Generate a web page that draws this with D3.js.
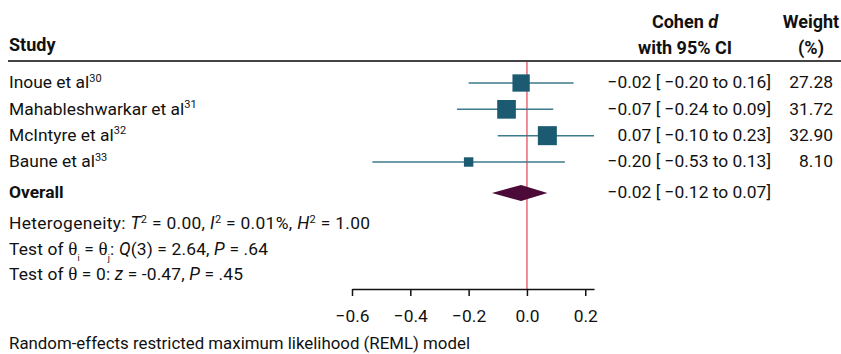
<!DOCTYPE html>
<html>
<head>
<meta charset="utf-8">
<script src="https://cdn.jsdelivr.net/npm/d3@7"></script>
<style>
  html, body { margin: 0; padding: 0; background: #fff; }
  svg { display: block; font-family: Roboto, "Open Sans", sans-serif; }
</style>
</head>
<body>
<div id="chart"></div>
<script>
/* Forest plot: Cohen d with 95% CI per study, REML random-effects pooled estimate. */

var studies = ["Inoue et al", "Mahableshwarkar et al", "McIntyre et al", "Baune et al"];
var refs = ["30", "31", "32", "33"];
var effect = [-0.02, -0.07, 0.07, -0.20];
var lower = [-0.20, -0.24, -0.10, -0.53];
var upper = [0.16, 0.09, 0.23, 0.13];
var weight = [27.28, 31.72, 32.90, 8.10];
var overall = [-0.02, -0.12, 0.07]; // estimate, lower, upper
var tickValues = [-0.6, -0.4, -0.2, 0, 0.2];

var W = 841, H = 354;
var FS = 17.4, HFS = 18;
var ink = "#111";
var fmt = function (v) { return d3.format(".2f")(v).replace("-", "\u2212"); };

var svg = d3.select("#chart").append("svg").attr("width", W).attr("height", H);

var x = d3.scaleLinear().domain([-0.6, 0.23]).range([352, 594]);
var y = d3.scalePoint().domain(studies).range([83, 162]);
var size = d3.scaleSqrt().domain([0, d3.max(weight)]).range([0, 19]);
var overallY = 193;
var axisY = 289;

// header
var head = svg.append("g").attr("font-weight", 700).attr("font-size", HFS).attr("fill", ink);
head.append("text").attr("x", 9).attr("y", 51).text("Study");
var ch = head.append("text").attr("x", 685).attr("y", 28).attr("text-anchor", "middle");
ch.append("tspan").text("Cohen ");
ch.append("tspan").attr("font-style", "italic").text("d");
head.append("text").attr("x", 685).attr("y", 54).attr("text-anchor", "middle").text("with 95% CI");
head.append("text").attr("x", 811).attr("y", 28).attr("text-anchor", "middle").text("Weight");
head.append("text").attr("x", 811).attr("y", 54).attr("text-anchor", "middle").text("(%)");

svg.append("line").attr("x1", 8).attr("x2", W).attr("y1", 61).attr("y2", 61)
  .attr("stroke", "#444").attr("stroke-width", 2);

// null line
svg.append("line").attr("x1", x(0)).attr("x2", x(0)).attr("y1", 62).attr("y2", axisY)
  .attr("stroke", "#e8727f").attr("stroke-width", 1.6);

// study rows
var rows = svg.append("g").selectAll("g").data(studies).join("g")
  .attr("transform", function (d) { return "translate(0," + y(d) + ")"; });

rows.append("line")
  .attr("x1", function (d, i) { return x(lower[i]); })
  .attr("x2", function (d, i) { return x(upper[i]); })
  .attr("stroke", "#3d7a8d").attr("stroke-width", 1.5);

rows.append("rect")
  .attr("x", function (d, i) { return x(effect[i]) - size(weight[i]) / 2; })
  .attr("y", function (d, i) { return -size(weight[i]) / 2; })
  .attr("width", function (d, i) { return size(weight[i]); })
  .attr("height", function (d, i) { return size(weight[i]); })
  .attr("fill", "#1b5a70");

var lab = rows.append("text").attr("x", 9).attr("dy", "0.3em")
  .attr("font-size", FS).attr("fill", ink);
lab.append("tspan").text(function (d) { return d; });
lab.append("tspan").attr("font-size", 11).attr("dy", "-0.6em")
  .text(function (d, i) { return refs[i]; });

rows.append("text").attr("x", 771).attr("dy", "0.3em").attr("text-anchor", "end")
  .attr("font-size", FS).attr("fill", ink)
  .text(function (d, i) { return fmt(effect[i]) + " [ " + fmt(lower[i]) + " to " + fmt(upper[i]) + "]"; });

rows.append("text").attr("x", 833).attr("dy", "0.3em").attr("text-anchor", "end")
  .attr("font-size", FS).attr("fill", ink)
  .text(function (d, i) { return weight[i].toFixed(2); });

// overall diamond
var dh = 8;
svg.append("path")
  .attr("d", "M" + x(overall[1]) + "," + overallY + "L" + x(overall[0]) + "," + (overallY - dh) +
    "L" + x(overall[2]) + "," + overallY + "L" + x(overall[0]) + "," + (overallY + dh) + "Z")
  .attr("fill", "#4b0a37");
svg.append("text").attr("x", 9).attr("y", overallY).attr("dy", "0.3em")
  .attr("font-size", FS).attr("font-weight", 700).attr("fill", ink).text("Overall");
svg.append("text").attr("x", 771).attr("y", overallY).attr("dy", "0.3em").attr("text-anchor", "end")
  .attr("font-size", FS).attr("fill", ink)
  .text(fmt(overall[0]) + " [ " + fmt(overall[1]) + " to " + fmt(overall[2]) + "]");

// statistics lines
function rich(yPos, len, parts) {
  var t = svg.append("text").attr("x", 9).attr("y", yPos).attr("font-size", FS).attr("fill", ink)
    .attr("textLength", len);
  parts.forEach(function (p) {
    var s = t.append("tspan").text(p[0]);
    if (p[1] === "i") s.attr("font-style", "italic");
    if (p[1] === "sup") s.attr("font-size", 11).attr("baseline-shift", "super");
    if (p[1] === "sub") s.attr("font-size", 9).attr("baseline-shift", "-6");
    if (p[1] === "th") s.attr("font-family", "Liberation Serif, serif").attr("font-size", 19);
  });
}
rich(229, 361, [["Heterogeneity: "], ["T", "i"], ["2", "sup"], [" = 0.00, "], ["I", "i"], ["2", "sup"],
  [" = 0.01%, "], ["H", "i"], ["2", "sup"], [" = 1.00"]]);
rich(255, 259, [["Test of "], ["\u03b8", "th"], ["i", "sub"], [" = "], ["\u03b8", "th"], ["j", "sub"], [": "],
  ["Q", "i"], ["(3) = 2.64, "], ["P", "i"], [" = .64"]]);
rich(280, 234, [["Test of "], ["\u03b8", "th"], [" = 0: "], ["z", "i"], [" = -0.47, "], ["P", "i"], [" = .45"]]);

// axis
var axis = svg.append("g").attr("transform", "translate(0," + axisY + ")")
  .call(d3.axisBottom(x).tickValues(tickValues).tickSize(7).tickSizeOuter(0)
    .tickFormat(function (d) { return d3.format(".1f")(d).replace("-", "\u2212"); }));
axis.select(".domain").attr("stroke", ink).attr("stroke-width", 1.5);
axis.selectAll(".tick line").attr("stroke", ink).attr("stroke-width", 1.5);
axis.selectAll(".tick text").attr("font-size", FS).attr("font-family", "Roboto, sans-serif")
  .attr("fill", ink).attr("dy", "1.35em");

svg.append("text").attr("x", 9).attr("y", 349).attr("font-size", FS).attr("fill", ink)
  .attr("textLength", 461).attr("lengthAdjust", "spacingAndGlyphs")
  .text("Random-effects restricted maximum likelihood (REML) model");
</script>
</body>
</html>
